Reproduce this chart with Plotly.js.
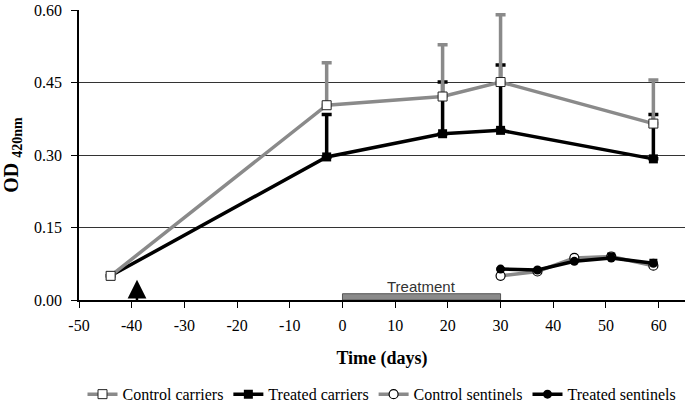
<!DOCTYPE html>
<html>
<head>
<meta charset="utf-8">
<script src="https://cdn.plot.ly/plotly-3.0.1.min.js"></script>
<style>
  html, body { margin: 0; padding: 0; background: #fff; }
  #chart { width: 688px; height: 408px; }
</style>
</head>
<body>
<div id="chart"></div>
<script>
// carriers: sampled at the same days
var carrierDays = [-44, -3, 19, 30, 59];
var controlCarriers = [0.050, 0.403, 0.421, 0.451, 0.365];
var controlCarriersErr = [0, 0.088, 0.107, 0.139, 0.090];
var treatedCarriers = [0.050, 0.296, 0.344, 0.351, 0.292];
var treatedCarriersErr = [0, 0.088, 0.107, 0.135, 0.092];

// sentinels: after treatment
var sentinelDays = [30, 37, 44, 51, 59];
var controlSentinels = [0.050, 0.059, 0.087, 0.090, 0.071];
var treatedSentinels = [0.064, 0.062, 0.080, 0.087, 0.076];
var treatedSentinelsErr = [0, 0, 0, 0.008, 0.006];

var treatmentDays = [0, 30];
var inoculationDay = [-39];

// tick labels with a plain hyphen like the original
var xTickVals = [-50, -40, -30, -20, -10, 0, 10, 20, 30, 40, 50, 60];
var xTickText = ['-50', '-40', '-30', '-20', '-10', '0', '10', '20', '30', '40', '50', '60'];

var grey = '#8a8a8a';
var serif = 'Liberation Serif, Times New Roman, serif';

var tTreatedCarriers = {
  x: carrierDays, y: treatedCarriers, name: 'Treated carriers', legendrank: 2,
  mode: 'lines+markers',
  line: {color: '#000', width: 3.5},
  marker: {symbol: 'square', size: 9, color: '#000'},
  error_y: {type: 'data', array: treatedCarriersErr, arrayminus: [0, 0, 0, 0, 0],
            color: '#000', thickness: 3.5, width: 5}
};
var tControlCarriers = {
  x: carrierDays, y: controlCarriers, name: 'Control carriers', legendrank: 1,
  mode: 'lines+markers',
  line: {color: grey, width: 3.5},
  marker: {symbol: 'square', size: 9, color: '#fff', line: {color: '#222', width: 1}},
  error_y: {type: 'data', array: controlCarriersErr, arrayminus: [0, 0, 0, 0, 0],
            color: grey, thickness: 3.5, width: 5}
};
var tControlSentinels = {
  x: sentinelDays, y: controlSentinels, name: 'Control sentinels', legendrank: 3,
  mode: 'lines+markers',
  line: {color: grey, width: 3.5},
  marker: {symbol: 'circle', size: 9, color: '#fff', line: {color: '#000', width: 1.2}}
};
var tTreatedSentinels = {
  x: sentinelDays, y: treatedSentinels, name: 'Treated sentinels', legendrank: 4,
  mode: 'lines+markers',
  line: {color: '#000', width: 3.5},
  marker: {symbol: 'circle', size: 9, color: '#000'},
  error_y: {type: 'data', array: treatedSentinelsErr, arrayminus: [0, 0, 0, 0, 0],
            color: '#000', thickness: 3, width: 4}
};

var data = [tTreatedCarriers, tControlCarriers, tControlSentinels, tTreatedSentinels];

var layout = {
  width: 688, height: 408,
  margin: {l: 79, r: 3, t: 10, b: 108, autoexpand: false},
  paper_bgcolor: '#fff', plot_bgcolor: '#fff',
  font: {family: serif, size: 16, color: '#000'},
  showlegend: true,
  legend: {orientation: 'h', x: 0.5, xanchor: 'center', y: -0.325, yanchor: 'middle',
           font: {family: serif, size: 16, color: '#000'}, itemwidth: 30, traceorder: 'normal'},
  xaxis: {
    range: [-50, 65], tickmode: 'array', tickvals: xTickVals, ticktext: xTickText,
    showgrid: false, zeroline: false, automargin: false,
    showline: true, linecolor: '#000', linewidth: 1.5,
    ticks: 'outside', ticklen: 6, tickcolor: '#000', tickwidth: 1,
    ticklabelstandoff: 4,
    tickfont: {family: serif, size: 16},
    title: {text: '<b>Time (days)</b>', font: {family: serif, size: 18}, standoff: 18}
  },
  yaxis: {
    range: [0, 0.6], dtick: 0.15, tickformat: '.2f',
    showgrid: true, gridcolor: '#333', gridwidth: 1,
    zeroline: false, automargin: false,
    showline: true, linecolor: '#000', linewidth: 1.5,
    ticks: 'outside', ticklen: 6, tickcolor: '#000',
    ticklabelstandoff: 6,
    tickfont: {family: serif, size: 16},
    title: {text: '<b>OD <sub>420nm</sub></b>', font: {family: serif, size: 20}, standoff: 10}
  },
  shapes: [{
    type: 'rect', xref: 'x', yref: 'y',
    x0: treatmentDays[0], x1: treatmentDays[1], y0: 0, y1: 0.013,
    fillcolor: '#8a8a8a', line: {color: '#555', width: 1}
  }],
  annotations: [{
    xref: 'x', yref: 'y', x: (treatmentDays[0] + treatmentDays[1]) / 2, y: 0.012,
    yanchor: 'bottom', yshift: -3, showarrow: false, text: 'Treatment',
    font: {family: 'Liberation Sans, Arial, sans-serif', size: 15, color: '#333'}
  }, {
    xref: 'x', yref: 'y', axref: 'x', ayref: 'y',
    x: inoculationDay[0], y: 0.042, ax: inoculationDay[0], ay: -0.004,
    showarrow: true, arrowhead: 2, arrowsize: 1.5, arrowwidth: 2.5, arrowcolor: '#000', text: ''
  }]
};

Plotly.newPlot('chart', data, layout, {displayModeBar: false});
</script>
</body>
</html>
